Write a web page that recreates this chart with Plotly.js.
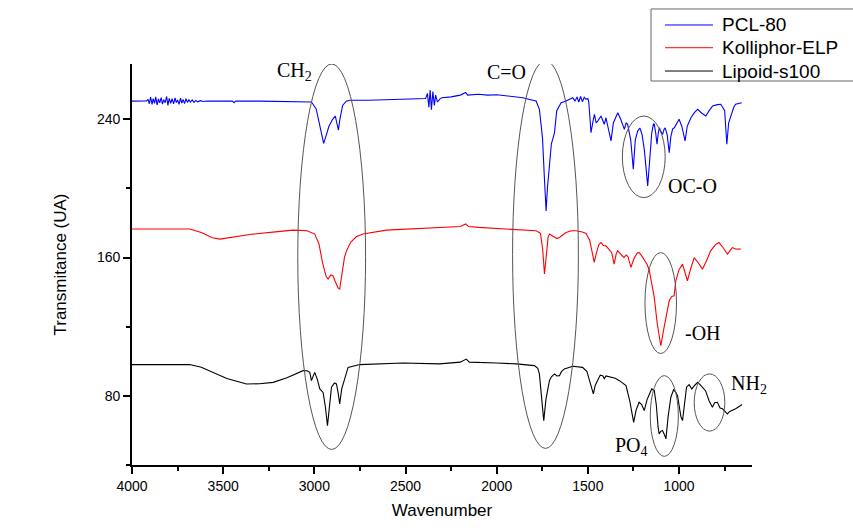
<!DOCTYPE html>
<html>
<head>
<meta charset="utf-8">
<script src="https://cdn.plot.ly/plotly-3.0.1.min.js"></script>
<style>html,body{margin:0;padding:0;background:#fff;}#chart{width:853px;height:532px;}</style>
</head>
<body>
<div id="chart"></div>
<script>
// ---- Data ----
const seriesNames = ["PCL-80", "Kolliphor-ELP", "Lipoid-s100"];

const pclWavenumber = [4000,3960,3920,3912,3905,3898,3890,3884,3876,3870,3862,3855,3848,3840,3833,3826,3818,3810,3803,3796,3788,3780,3772,3764,3757,3750,3742,3734,3727,3720,3712,3704,3696,3688,3680,3670,3660,3650,3640,3625,3610,3590,3500,3450,3440,3432,3300,3100,3030,3016,2990,2970,2955,2949,2940,2920,2900,2885,2875,2868,2860,2845,2825,2806,2700,2600,2500,2420,2390,2380,2372,2365,2358,2350,2342,2335,2325,2310,2300,2250,2200,2170,2160,2100,2050,2000,1950,1900,1857,1820,1784,1766,1749,1738,1729,1722,1711,1700,1693,1683,1671,1647,1620,1600,1583,1570,1560,1550,1540,1530,1520,1510,1500,1495,1483,1470,1464,1455,1446,1428,1410,1401,1390,1373,1360,1336,1320,1300,1290,1282,1265,1251,1240,1227,1215,1203,1190,1180,1172,1162,1150,1140,1136,1128,1121,1114,1108,1100,1090,1083,1076,1065,1054,1045,1035,1026,1010,1000,985,967,955,935,915,898,875,853,835,816,790,771,750,738,728,716,700,690,670,656];
const pclValues = [250.5,250.4,250.6,251.5,249.0,252.8,248.6,252.0,249.2,253.0,248.3,251.8,249.5,252.6,248.8,251.4,249.6,253.2,248.0,252.1,249.3,251.9,248.9,252.4,249.7,251.2,248.7,252.3,249.4,251.5,249.1,251.9,249.8,251.3,250.0,251.2,249.8,250.9,250.1,250.8,250.3,250.6,250.4,250.5,249.6,250.6,250.5,250.4,250.3,250.0,246.0,236.0,228.0,226.1,229.0,236.0,240.0,241.9,237.0,233.8,240.0,248.0,250.5,251.0,251.0,251.2,251.5,251.8,252.0,255.0,247.0,257.0,245.5,256.0,248.0,254.0,250.0,252.0,252.5,253.0,254.0,255.5,254.0,254.5,254.0,254.2,253.5,253.0,252.5,251.5,250.6,245.8,229.4,205.0,187.0,200.0,215.9,226.0,228.4,232.3,244.8,249.6,250.6,251.5,252.5,250.5,253.0,250.0,253.2,250.2,252.8,251.6,252.0,250.0,232.3,240.0,242.9,238.0,239.0,241.9,237.1,240.9,236.0,227.5,238.0,243.8,240.0,234.2,238.0,237.1,228.0,211.1,228.0,233.2,235.0,231.3,222.0,208.0,201.5,215.0,232.0,237.5,237.1,232.0,225.6,232.0,235.1,233.0,231.3,234.0,235.1,231.0,220.7,230.0,234.5,235.1,238.5,240.0,236.0,227.5,236.0,240.9,244.0,245.8,243.5,241.9,245.0,247.7,248.5,248.7,245.0,225.6,238.0,241.9,247.0,248.7,249.0,249.6];

const kolWavenumber = [4000,3974,3800,3683,3620,3560,3518,3450,3336,3200,3117,3040,2998,2975,2955,2935,2925,2910,2898,2885,2870,2861,2850,2835,2824,2800,2770,2733,2605,2450,2313,2200,2170,2155,2100,2000,1948,1850,1784,1760,1748,1738,1728,1718,1711,1690,1670,1656,1640,1620,1590,1565,1530,1510,1490,1475,1465,1455,1440,1428,1415,1401,1385,1370,1356,1345,1337,1320,1302,1290,1280,1264,1245,1230,1219,1205,1190,1175,1163,1150,1136,1120,1100,1085,1072,1054,1040,1027,1018,1000,981,968,954,935,917,895,872,850,827,800,781,760,735,720,708,690,662];
const kolValues = [176.5,176.5,176.6,176.5,174.5,171.5,170.7,171.8,173.6,175.0,175.9,175.5,173.6,168.0,157.0,149.0,147.6,150.0,149.5,146.0,142.5,141.8,150.0,160.0,163.9,169.0,172.0,173.6,175.9,176.8,177.4,178.0,179.5,178.0,177.5,177.0,176.5,176.0,175.5,174.0,165.0,150.5,162.0,172.0,173.6,172.5,171.0,171.6,173.0,174.5,175.5,175.5,174.8,174.0,170.0,162.0,157.2,162.0,167.5,168.7,167.0,166.8,164.5,163.0,156.2,162.0,163.9,162.0,160.0,161.5,160.5,154.3,160.0,162.5,163.0,161.0,158.1,156.0,152.4,145.0,137.0,122.0,109.0,118.0,125.4,135.0,137.5,137.9,146.6,153.0,156.2,151.0,146.6,154.0,160.0,157.0,153.3,158.0,163.9,167.5,168.7,166.0,162.0,164.0,165.8,165.0,164.9];

const lipWavenumber = [4000,3993,3900,3800,3683,3620,3555,3480,3372,3300,3226,3150,3062,3040,3025,3016,3008,2998,2985,2970,2952,2940,2928,2918,2906,2890,2879,2870,2861,2850,2839,2815,2751,2600,2514,2313,2200,2167,2150,2000,1893,1793,1775,1766,1755,1742,1730,1711,1700,1683,1670,1656,1645,1629,1583,1529,1505,1492,1470,1460,1446,1432,1419,1410,1401,1373,1350,1327,1310,1291,1270,1249,1235,1219,1205,1191,1175,1160,1150,1136,1125,1115,1109,1100,1091,1082,1072,1060,1045,1030,1018,1008,998,990,981,970,959,945,930,915,898,885,871,855,835,817,805,790,775,762,748,735,722,708,690,662,655];
const lipValues = [98.1,98.1,98.2,98.4,98.1,96.5,93.6,90.0,86.9,87.0,87.8,90.5,94.6,94.5,93.6,88.8,91.0,93.6,90.0,84.0,82.0,74.0,62.8,75.0,85.0,87.5,86.9,82.0,75.4,84.0,87.8,96.5,98.1,98.6,99.0,98.5,99.5,101.3,99.5,99.0,98.5,97.5,96.0,92.7,80.0,65.7,78.0,88.8,91.0,92.7,91.5,91.7,94.0,95.6,97.1,96.5,94.0,88.8,81.1,86.0,88.8,92.0,91.7,90.0,91.5,90.7,90.2,88.8,87.5,85.9,77.0,64.7,72.0,76.3,75.0,71.5,78.0,82.1,84.0,83.0,75.0,62.0,58.0,59.5,60.0,58.0,55.1,68.0,79.2,83.5,82.1,80.0,72.0,68.0,65.7,76.0,85.0,86.5,84.0,86.0,87.8,86.5,85.0,83.0,77.0,73.4,76.0,76.3,73.0,72.5,71.0,69.6,71.0,71.5,72.5,74.4,75.0];

const xTickValues = [4000,3500,3000,2500,2000,1500,1000];
const yTickValues = [80,160,240];
const bandLabels = ["CH<sub>2</sub>","C=O","OC-O","-OH","NH<sub>2</sub>","PO<sub>4</sub>"];

// ---- Figure ----
const lineColors = ["#0000ff","#ff0000","#000000"];
const traces = [
  {x: pclWavenumber, y: pclValues, name: seriesNames[0]},
  {x: kolWavenumber, y: kolValues, name: seriesNames[1]},
  {x: lipWavenumber, y: lipValues, name: seriesNames[2]}
].map((t,i) => Object.assign(t, {type:"scatter", mode:"lines", showlegend:false, line:{color:lineColors[i], width:1.1}}));

const annFont = {family:"Liberation Serif, Times New Roman, serif", size:20, color:"#000"};
const annPos = [[3107,267.5],[1944,267.5],[928,201.5],[868,116.1],[616,86.5],[1263,50.7]];
const annotations = bandLabels.map((t,i) => ({
  text:t, x:annPos[i][0], y:annPos[i][1], xref:"x", yref:"y", showarrow:false, font:annFont
}));

// legend box drawn in paper coordinates (compact spacing as in the reference)
const legY = [1.0973, 1.0406, 0.9825];
seriesNames.forEach((n,i) => {
  annotations.push({
    text:n, xref:"paper", yref:"paper", x:0.9484, y:legY[i], xanchor:"left", yanchor:"middle",
    showarrow:false, font:{family:"Liberation Sans, Arial, sans-serif", size:19, color:"#000"}
  });
});

const ellipseBoxes = [
  [3091,2719,49,272],
  [1913,1552,49.6,274],
  [1311,1076,194.7,241.9],
  [1187,1014,104.5,162.9],
  [1158,1004,45,91.7],
  [917,749,59.6,92.7]
];
const shapes = ellipseBoxes.map(b => ({
  type:"circle", xref:"x", yref:"y", x0:b[0], x1:b[1], y0:b[2], y1:b[3],
  line:{color:"#555", width:1}
}));
shapes.push({type:"rect", xref:"paper", yref:"paper", x0:0.8371, x1:1.174, y0:0.9576, y1:1.1372,
  fillcolor:"#fff", line:{color:"#666", width:1}, layer:"above"});
lineColors.forEach((c,i) => {
  shapes.push({type:"line", xref:"paper", yref:"paper", x0:0.8597, x1:0.9371, y0:legY[i], y1:legY[i],
    line:{color:c, width:1}, layer:"above"});
});

const axisCommon = {
  showline:true, linecolor:"#000", linewidth:1.6, mirror:false,
  showgrid:false, zeroline:false,
  ticks:"outside", ticklen:7, tickwidth:1.5, tickcolor:"#000",
  tickfont:{family:"Liberation Sans, Arial, sans-serif", size:14, color:"#000"}
};

const layout = {
  width:853, height:532,
  margin:{l:132, r:101, t:64, b:67},
  paper_bgcolor:"#fff", plot_bgcolor:"#fff",
  showlegend:false,
  xaxis: Object.assign({}, axisCommon, {
    range:[4000,600], tickmode:"array", tickvals:xTickValues,
    minor:{dtick:250, tick0:0, ticks:"outside", ticklen:4, tickwidth:1.5, tickcolor:"#000"},
    title:{text:"Wavenumber", font:{family:"Liberation Sans, Arial, sans-serif", size:17, color:"#000"}, standoff:12}
  }),
  yaxis: Object.assign({}, axisCommon, {
    range:[40,272], tickmode:"array", tickvals:yTickValues,
    minor:{dtick:40, tick0:0, ticks:"outside", ticklen:4, tickwidth:1.5, tickcolor:"#000"},
    title:{text:"Transmitance (UA)", font:{family:"Liberation Sans, Arial, sans-serif", size:17, color:"#000"}, standoff:26}
  }),
  annotations: annotations,
  shapes: shapes
};

Plotly.newPlot("chart", traces, layout, {displayModeBar:false});
</script>
</body>
</html>
